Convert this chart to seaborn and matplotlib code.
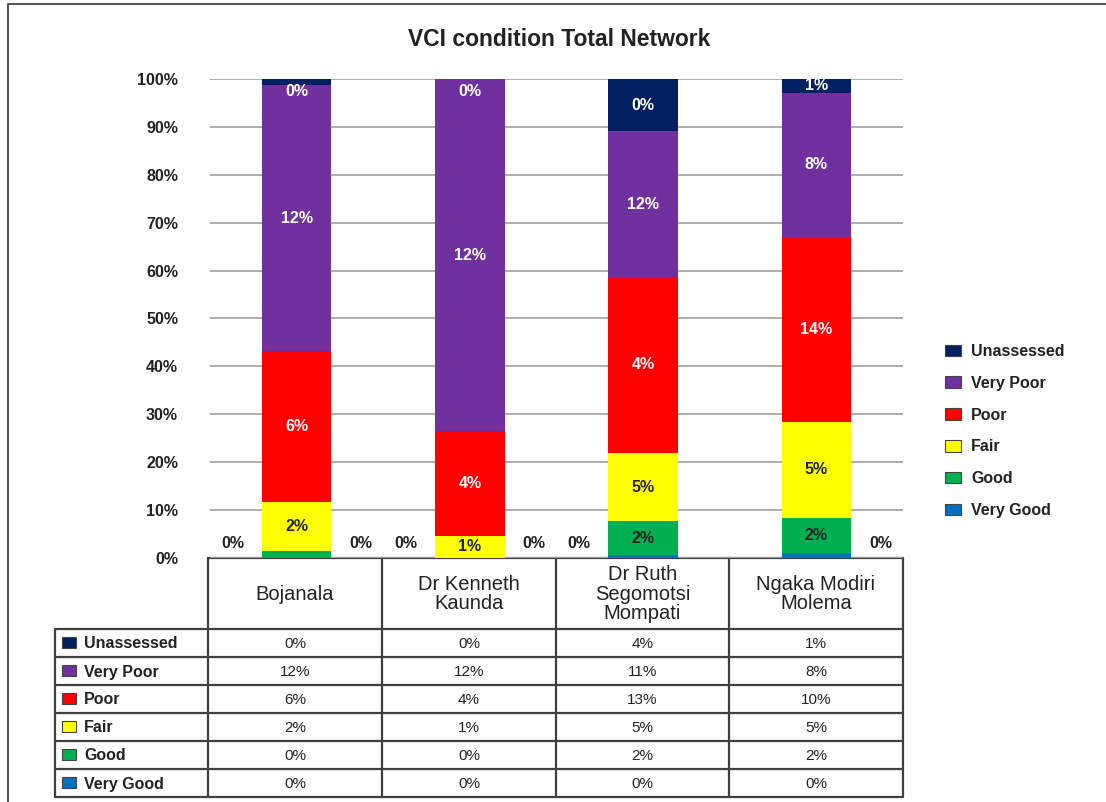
import pandas as pd
import matplotlib.pyplot as plt
import seaborn as sns
import matplotlib.ticker as ticker
from matplotlib.patches import Patch

sns.set_theme(style='white')
plt.rcParams['font.family'] = ['Liberation Sans', 'DejaVu Sans']

# regiones (eje x) y condiciones (de abajo hacia arriba en la barra)
regions = ['Bojanala', 'Dr Kenneth\nKaunda', 'Dr Ruth\nSegomotsi\nMompati', 'Ngaka Modiri\nMolema']
conditions = ['Very Good', 'Good', 'Fair', 'Poor', 'Very Poor', 'Unassessed']
colors = ['#0070C0', '#00B050', '#FFFF00', '#FF0000', '#7030A0', '#002060']

# altura de cada segmento (% de la barra)
very_good = [0.0, 0.0, 0.6, 1.0]
good = [1.5, 0.0, 7.1, 7.4]
fair = [10.2, 4.6, 14.2, 20.0]
poor = [31.5, 21.9, 36.8, 38.6]
very_poor = [55.5, 73.5, 30.4, 30.1]
unassessed = [1.3, 0.0, 10.9, 2.9]

# etiquetas sobre las barras
lab_very_good = ['0%', '0%', '0%', '0%']
lab_good = ['0%', '0%', '2%', '2%']
lab_fair = ['2%', '1%', '5%', '5%']
lab_poor = ['6%', '4%', '4%', '14%']
lab_very_poor = ['12%', '12%', '12%', '8%']
lab_unassessed = ['0%', '0%', '0%', '1%']

# valores de la tabla de datos
tbl_unassessed = ['0%', '0%', '4%', '1%']
tbl_very_poor = ['12%', '12%', '11%', '8%']
tbl_poor = ['6%', '4%', '13%', '10%']
tbl_fair = ['2%', '1%', '5%', '5%']
tbl_good = ['0%', '0%', '2%', '2%']
tbl_very_good = ['0%', '0%', '0%', '0%']

heights = [very_good, good, fair, poor, very_poor, unassessed]
labels = [lab_very_good, lab_good, lab_fair, lab_poor, lab_very_poor, lab_unassessed]
table_rows = [tbl_unassessed, tbl_very_poor, tbl_poor, tbl_fair, tbl_good, tbl_very_good]

df = pd.DataFrame({c: h for c, h in zip(conditions, heights)}, index=regions)
cum = df.cumsum(axis=1)

W, H = 1106, 802
fig = plt.figure(figsize=(W / 100, H / 100), dpi=100)

# capa de fondo en pixeles: marco, tabla
bg = fig.add_axes([0, 0, 1, 1])
bg.set_xlim(0, W)
bg.set_ylim(H, 0)
bg.axis('off')
bg.plot([8, 8, W + 5], [H + 5, 4, 4], color='#555555', lw=1.5)

ax = fig.add_axes([210 / W, 1 - 558 / H, (903 - 210) / W, (558 - 79) / H])
ax.patch.set_alpha(0)

# barras apiladas: se dibuja el acumulado desde arriba hacia abajo
for cond, col in reversed(list(zip(conditions, colors))):
    sns.barplot(x=regions, y=cum[cond].values, color=col, saturation=1,
                width=0.4, linewidth=0, ax=ax, order=regions)

ax.set_xlim(-0.5, 3.5)
ax.set_ylim(0, 100)
ax.set_xlabel('')
ax.set_ylabel('')
ax.set_yticks(range(0, 101, 10))
ax.yaxis.set_major_formatter(ticker.FuncFormatter(lambda v, p: f'{int(v)}%'))
ax.tick_params(axis='y', length=0, pad=23, labelsize=11.5, labelcolor='#222222')
for t in ax.get_yticklabels():
    t.set_fontweight('bold')
ax.tick_params(axis='x', length=0, labelbottom=False)
ax.yaxis.grid(True, color='#a6a6a6', lw=1.3)
ax.set_axisbelow(True)
for s in ax.spines.values():
    s.set_visible(False)

# etiquetas de datos
side_very_good = [-1, -1, -1, 1]
side_good = [1, 1, 0, 0]
txt_colors = ['#222222', '#222222', '#222222', 'white', 'white', 'white']
for k, cond in enumerate(conditions):
    for i in range(len(regions)):
        h = heights[k][i]
        bottom = cum[cond].iloc[i] - h
        side = 0
        if cond == 'Very Good':
            side = side_very_good[i]
        elif cond == 'Good':
            side = side_good[i]
        if side != 0:
            ax.text(i + 0.37 * side, 3.0, labels[k][i], ha='center', va='center',
                    fontsize=11.5, fontweight='bold', color='#222222')
            continue
        y = bottom + h / 2
        if h < 2:
            y = min(y, 97.3)
        ax.text(i, y, labels[k][i], ha='center', va='center',
                fontsize=11.5, fontweight='bold', color=txt_colors[k])

fig.text(559 / W, 1 - 40 / H, 'VCI condition Total Network', ha='center', va='center',
         fontsize=16.5, fontweight='bold', color='#222222')

# leyenda
handles = [Patch(facecolor=c, edgecolor='#444444', lw=0.8, label=n)
           for n, c in reversed(list(zip(conditions, colors)))]
fig.legend(handles=handles, loc='center left', bbox_to_anchor=(931 / W, 1 - 431 / H),
           frameon=False, labelspacing=1.05, handlelength=1.0, handleheight=0.75,
           handletextpad=0.6, prop={'size': 11.5, 'weight': 'bold'}, labelcolor='#222222')

# tabla de datos
lc = '#404040'
col_x = [208, 382, 556, 729, 903]
row_y = [628.5 + 28 * r for r in range(7)]
bg.plot([208, 903], [558, 558], color=lc, lw=1.6)
for x in col_x:
    bg.plot([x, x], [558, row_y[-1]], color=lc, lw=1.6)
bg.plot([55, 55], [row_y[0], row_y[-1]], color=lc, lw=1.6)
for y in row_y:
    bg.plot([55, 903], [y, y], color=lc, lw=1.6)
for i, reg in enumerate(regions):
    cx = (col_x[i] + col_x[i + 1]) / 2
    bg.text(cx, 594, reg, ha='center', va='center', fontsize=14.5,
            linespacing=1.05, color='#222222')
row_names = list(reversed(conditions))
row_cols = list(reversed(colors))
for r, name in enumerate(row_names):
    cy = (row_y[r] + row_y[r + 1]) / 2
    bg.add_patch(plt.Rectangle((62, cy - 5.5), 14, 11, facecolor=row_cols[r],
                               edgecolor='#444444', lw=0.8))
    bg.text(84, cy + 1.5, name, ha='left', va='center', fontsize=11.5,
            fontweight='bold', color='#222222')
    for i in range(len(regions)):
        cx = (col_x[i] + col_x[i + 1]) / 2
        bg.text(cx, cy + 1.5, table_rows[r][i], ha='center', va='center',
                fontsize=11, color='#222222')

fig.savefig('out.png', dpi=100)
